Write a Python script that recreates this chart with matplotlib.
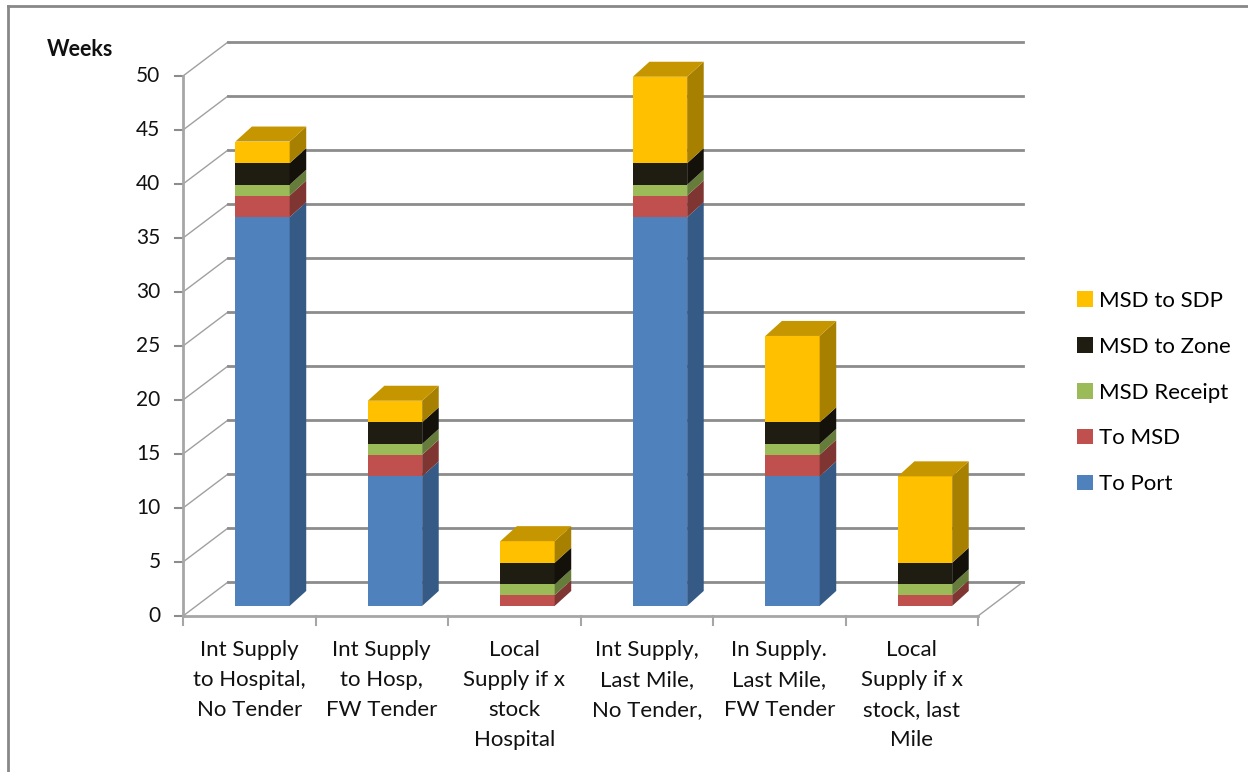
import numpy as np
import matplotlib.pyplot as plt
from matplotlib.patches import Polygon, Patch
from matplotlib.lines import Line2D

plt.rcParams['font.family'] = ['Lato', 'DejaVu Sans']

# categories and stacked components (weeks)
categories = [
    "Int Supply\nto Hospital,\nNo Tender",
    "Int Supply\nto Hosp,\nFW Tender",
    "Local\nSupply if x\nstock\nHospital",
    "Int Supply,\nLast Mile,\nNo Tender,",
    "In Supply.\nLast Mile,\nFW Tender",
    "Local\nSupply if x\nstock, last\nMile",
]
to_port     = [36, 12, 0, 36, 12, 0]
to_msd      = [2, 2, 1, 2, 2, 1]
msd_receipt = [1, 1, 1, 1, 1, 1]
msd_zone    = [2, 2, 2, 2, 2, 2]
msd_sdp     = [2, 2, 2, 8, 8, 8]

series = [
    ("To Port",     to_port,     "#4F81BD", "#345A85", "#6A93C6"),
    ("To MSD",      to_msd,      "#C0504D", "#7F3532", "#9E403D"),
    ("MSD Receipt", msd_receipt, "#9BBB59", "#667C3B", "#7F9848"),
    ("MSD to Zone", msd_zone,    "#1F1C11", "#13110A", "#2A2618"),
    ("MSD to SDP",  msd_sdp,     "#FFC000", "#A88000", "#C69600"),
]

yticks = np.arange(0, 51, 5)

# geometry of the pseudo-3D box (data units)
WDX, WDY = 0.34, 3.15      # depth of floor / side wall
BOX, BOY = 0.10, 0.93      # offset of the bar row behind the front edge
BDX, BDY = 0.125, 1.39     # depth of each bar
BW = 0.41                  # bar width
n = len(categories)

W, H = 1248, 772
fig = plt.figure(figsize=(W / 100, H / 100), dpi=100)
px_x, px_y = 132.5, 10.8
x0_px, y0_px = 183, 616
xmax, ymax = 6.6, 54
ax = fig.add_axes([x0_px / W, (H - y0_px) / H, xmax * px_x / W, ymax * px_y / H])
ax.set_xlim(0, xmax)
ax.set_ylim(0, ymax)
ax.axis("off")

grid_c = "#8C8C8C"
# back wall gridlines and left wall diagonals
for v in yticks:
    ax.plot([0, WDX], [v, v + WDY], color="#A0A0A0", lw=1.0, zorder=1, clip_on=False)
    ax.plot([WDX, n + WDX], [v + WDY, v + WDY], color=grid_c, lw=2.0, zorder=1, clip_on=False)
    ax.plot([-0.06, 0], [v, v], color=grid_c, lw=1.5, zorder=1, clip_on=False)
    ax.text(-0.17, v, str(v), ha="right", va="center", fontsize=15, color="#111111")

# floor edges and axes
ax.plot([0, n], [0, 0], color="#A6A6A6", lw=2.0, zorder=2, clip_on=False)
ax.plot([n, n + WDX], [0, WDY], color="#A0A0A0", lw=1.0, zorder=1, clip_on=False)
ax.plot([0, 0], [0, 50], color="#A6A6A6", lw=2.0, zorder=2, clip_on=False)
for i in range(n + 1):
    ax.plot([i, i], [0, -0.85], color="#A6A6A6", lw=1.5, zorder=2, clip_on=False)

# stacked bars with side faces, top face on the last segment
for i in range(n):
    xl = i + 0.5 - BW / 2 + BOX
    xr = xl + BW
    base = BOY
    vis = [s for s in series if s[1][i] > 0]
    for k, (name, vals, front, side, top) in enumerate(vis):
        val = vals[i]
        ax.bar(xl, val, width=BW, bottom=base, align="edge", color=front,
               edgecolor="none", zorder=3)
        ax.add_patch(Polygon([(xr, base), (xr + BDX, base + BDY),
                              (xr + BDX, base + val + BDY), (xr, base + val)],
                             closed=True, fc=side, ec="none", zorder=3))
        base += val
        if k == len(vis) - 1:
            ax.add_patch(Polygon([(xl, base), (xr, base), (xr + BDX, base + BDY),
                                  (xl + BDX, base + BDY)],
                                 closed=True, fc=top, ec="none", zorder=3))

# category labels
for i, lab in enumerate(categories):
    ax.text(i + 0.5, -2.2, lab, ha="center", va="top", fontsize=16,
            linespacing=1.63, color="#111111")

fig.text(47 / W, 1 - 50 / H, "Weeks", ha="left", va="center", fontsize=15.5,
         fontweight="bold", color="#111111")

handles = [Patch(facecolor=s[2], edgecolor="none", label=s[0]) for s in series[::-1]]
fig.legend(handles=handles, loc="upper left", bbox_to_anchor=(1077 / W, 1 - 291 / H),
           frameon=False, fontsize=16, handlelength=0.7, handleheight=0.7,
           handletextpad=0.3, labelspacing=1.16, borderpad=0, borderaxespad=0)

# chart area border (top and left edges)
fig.add_artist(Line2D([8 / W, 1], [1 - 6 / H, 1 - 6 / H], color="#888888", lw=2,
                      transform=fig.transFigure))
fig.add_artist(Line2D([8 / W, 8 / W], [0, 1 - 6 / H], color="#888888", lw=2,
                      transform=fig.transFigure))

fig.savefig("out.png", dpi=100)
